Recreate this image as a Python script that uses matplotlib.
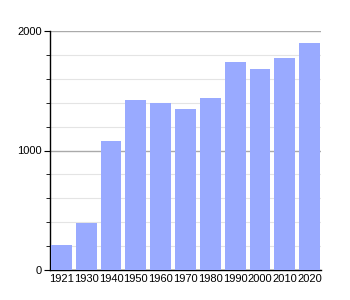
import matplotlib
matplotlib.use('Agg')
import matplotlib.pyplot as plt
from matplotlib.ticker import MultipleLocator

# Population by census year
years = ['1921', '1930', '1940', '1950', '1960', '1970', '1980', '1990', '2000', '2010', '2020']
population = [210, 395, 1080, 1423, 1397, 1347, 1439, 1740, 1682, 1774, 1900]

plt.rcParams['font.family'] = ['Liberation Sans', 'DejaVu Sans']

fig = plt.figure(figsize=(3.5, 3.0), dpi=100)
ax = fig.add_axes([50 / 350, 30 / 300, 271 / 350, 239 / 300])

x = range(len(years))
ax.bar(x, population, width=0.84, color='#99aaff', zorder=3)

ax.set_xlim(-0.46, len(years) - 0.54)
ax.set_ylim(0, 2000)
ax.set_xticks(list(x))
ax.set_xticklabels(years)
ax.yaxis.set_major_locator(MultipleLocator(1000))
ax.yaxis.set_minor_locator(MultipleLocator(200))

ax.grid(axis='y', which='major', color='#aaaaaa', linewidth=1, zorder=1)
ax.grid(axis='y', which='minor', color='#e4e4e4', linewidth=0.8, zorder=1)

for side in ['top', 'right']:
    ax.spines[side].set_visible(False)
ax.spines['left'].set_linewidth(1)
ax.spines['bottom'].set_linewidth(1)

ax.tick_params(axis='x', length=0, labelsize=8, pad=3)
ax.tick_params(axis='y', which='major', length=4, labelsize=8, pad=2)
ax.tick_params(axis='y', which='minor', length=3)

fig.savefig('out.png', dpi=100)
